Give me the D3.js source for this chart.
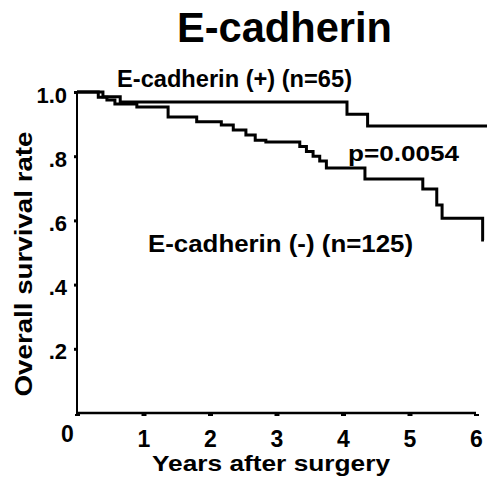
<!DOCTYPE html>
<html>
<head>
<meta charset="utf-8">
<script src="https://cdn.jsdelivr.net/npm/d3@7"></script>
<style>
  body { margin: 0; background: #fff; }
  text { font-family: "Liberation Sans", Arial, sans-serif; font-weight: bold; fill: #000; }
</style>
</head>
<body>
<div id="the_chart"></div>
<script>
// Kaplan-Meier steps
var plusTimes  = [0, 0.39, 0.65, 4.06, 4.37, 6.17];
var plusSurv   = [1, 0.985, 0.969, 0.931, 0.894, 0.894];
var minusTimes = [0, 0.32, 0.45, 0.57, 0.90, 1.37, 1.80, 2.17, 2.35, 2.54, 2.68, 2.84, 3.35, 3.45, 3.55, 3.65, 3.75, 4.33, 5.20, 5.41, 5.49, 6.10, 6.12];
var minusSurv  = [1, 0.984, 0.975, 0.963, 0.953, 0.922, 0.907, 0.897, 0.882, 0.866, 0.850, 0.844, 0.830, 0.815, 0.800, 0.785, 0.763, 0.729, 0.698, 0.648, 0.607, 0.539, 0.539];

var xTicks = [0, 1, 2, 3, 4, 5, 6];
var yTicks = [0.2, 0.4, 0.6, 0.8, 1.0];
var yTickLabels = [".2", ".4", ".6", ".8", "1.0"];

var w = 487, h = 482;

var svg = d3.select("#the_chart")
            .append("svg")
            .attr("width", w)
            .attr("height", h);

var xscale = d3.scaleLinear().domain([0, 6]).range([77, 476]);
var yscale = d3.scaleLinear().domain([0, 1]).range([413, 92]);

// title
svg.append("text")
   .attr("x", 284.5).attr("y", 42)
   .attr("text-anchor", "middle")
   .attr("font-size", 43)
   .attr("textLength", 215).attr("lengthAdjust", "spacingAndGlyphs")
   .text("E-cadherin");

// axes
var xAxis = d3.axisBottom(xscale)
              .tickValues(xTicks)
              .tickSize(3)
              .tickFormat(d3.format("d"));

var yAxis = d3.axisLeft(yscale)
              .tickValues(yTicks)
              .tickSize(3)
              .tickFormat(function(d, i) { return yTickLabels[i]; });

var gX = svg.append("g")
            .attr("transform", "translate(0,413)")
            .call(xAxis);
gX.select(".domain").remove();
gX.selectAll(".tick line").attr("stroke", "#000").attr("stroke-width", 5).attr("y1", 1);
gX.selectAll(".tick text")
  .attr("font-size", 23).attr("font-family", null)
  .attr("y", 34).attr("dy", 0);
gX.selectAll(".tick text").filter(function(d) { return d === 0; })
  .attr("x", -10).attr("y", 29);

var gY = svg.append("g")
            .attr("transform", "translate(77,0)")
            .call(yAxis);
gY.select(".domain").remove();
gY.selectAll(".tick line").attr("stroke", "#000").attr("stroke-width", 3);
gY.selectAll(".tick text")
  .attr("font-size", 22).attr("font-family", null)
  .attr("x", -10).attr("dy", 10);

// axis lines
svg.append("line")
   .attr("x1", xscale(0)).attr("x2", xscale(0))
   .attr("y1", yscale(1)).attr("y2", yscale(0) + 1)
   .attr("stroke", "#000").attr("stroke-width", 2);
svg.append("line")
   .attr("x1", xscale(0) - 1).attr("x2", xscale(6))
   .attr("y1", yscale(0)).attr("y2", yscale(0))
   .attr("stroke", "#000").attr("stroke-width", 2.5);

// axis titles
svg.append("text")
   .attr("x", 271).attr("y", 471)
   .attr("text-anchor", "middle")
   .attr("font-size", 22)
   .attr("textLength", 238).attr("lengthAdjust", "spacingAndGlyphs")
   .text("Years after surgery");

svg.append("text")
   .attr("transform", "translate(32,264) rotate(-90)")
   .attr("text-anchor", "middle")
   .attr("font-size", 23)
   .attr("textLength", 265).attr("lengthAdjust", "spacingAndGlyphs")
   .text("Overall survival rate");

// curves
var line = d3.line()
             .x(function(d) { return xscale(d[0]); })
             .y(function(d) { return yscale(d[1]); })
             .curve(d3.curveStepAfter);

var plusData = plusTimes.map(function(t, i) { return [t, plusSurv[i]]; });
var minusData = minusTimes.map(function(t, i) { return [t, minusSurv[i]]; });

svg.append("path")
   .attr("d", line(minusData))
   .attr("fill", "none").attr("stroke", "#000").attr("stroke-width", 3);
svg.append("path")
   .attr("d", line(plusData))
   .attr("fill", "none").attr("stroke", "#000").attr("stroke-width", 3);

// labels
svg.append("text")
   .attr("x", 117).attr("y", 87)
   .attr("font-size", 23)
   .attr("textLength", 235).attr("lengthAdjust", "spacingAndGlyphs")
   .text("E-cadherin (+) (n=65)");

svg.append("text")
   .attr("x", 148).attr("y", 252)
   .attr("font-size", 23)
   .attr("textLength", 265).attr("lengthAdjust", "spacingAndGlyphs")
   .text("E-cadherin (-) (n=125)");

svg.append("text")
   .attr("x", 348).attr("y", 161)
   .attr("font-size", 22)
   .attr("textLength", 111).attr("lengthAdjust", "spacingAndGlyphs")
   .text("p=0.0054");
</script>
</body>
</html>
